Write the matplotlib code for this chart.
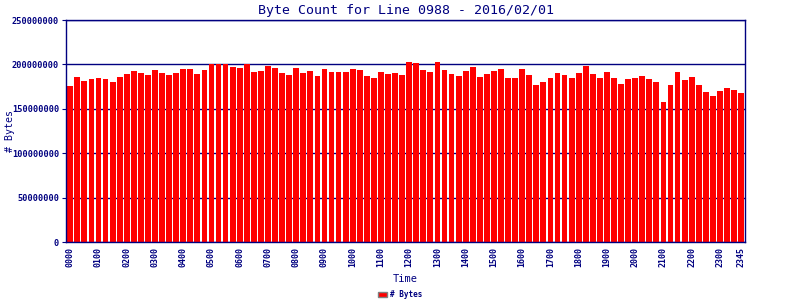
import matplotlib
matplotlib.use("Agg")
import matplotlib.pyplot as plt
import numpy as np

navy = "#000080"

# one bar per 15 minutes, in millions of bytes
times = ["%02d%02d" % (h, m) for h in range(24) for m in (0, 15, 30, 45)]
bytes_m = [
    175.3, 185.4, 180.9, 183.1, 184.3, 183.1, 179.8, 185.4,
    188.8, 192.1, 189.9, 187.6, 193.3, 189.9, 187.6, 189.9,
    194.4, 194.4, 188.8, 193.3, 200.0, 200.5, 200.0, 196.6,
    195.5, 200.7, 191.0, 192.1, 197.8, 195.5, 189.9, 187.6,
    195.5, 189.9, 192.1, 186.5, 194.4, 191.0, 191.0, 191.0,
    194.4, 193.3, 186.5, 184.3, 191.0, 188.8, 189.9, 187.6,
    202.2, 201.1, 193.3, 191.0, 202.2, 193.3, 188.8, 186.5,
    192.1, 196.6, 185.4, 188.8, 192.1, 194.4, 184.3, 184.3,
    194.4, 187.6, 176.4, 179.8, 184.3, 189.9, 187.6, 184.3,
    189.9, 197.8, 188.8, 184.3, 191.0, 184.3, 177.5, 183.1,
    184.3, 186.5, 183.1, 179.8, 157.3, 176.4, 191.0, 182.0,
    185.4, 176.4, 168.5, 164.0, 169.7, 173.0, 170.8, 167.4,
]
values = np.array(bytes_m) * 1e6
y_ticks = [0, 50000000, 100000000, 150000000, 200000000, 250000000]

mono = "DejaVu Sans Mono"

fig = plt.figure(figsize=(8, 3), dpi=100)
ax = fig.add_axes([66 / 800, 1 - 242 / 300, 679 / 800, 222 / 300])

x = np.arange(len(times))
ax.bar(x, values, width=0.82, color="#ff0000", label="# Bytes", zorder=2)

ax.set_xlim(-0.6, len(times) - 0.45)
ax.set_ylim(0, 250000000)

ax.set_yticks(y_ticks)
ax.set_yticklabels([str(v) for v in y_ticks], fontfamily=mono,
                   fontsize=6.2, fontweight="bold", color=navy)
ax.grid(axis="y", color=navy, linewidth=1, zorder=1)

tick_pos = list(range(0, 96, 4)) + [95]
ax.set_xticks(tick_pos)
ax.set_xticklabels([times[i] for i in tick_pos], rotation=90, fontfamily=mono,
                   fontsize=6, fontweight="bold", color=navy)
ax.set_xticks(x, minor=True)
ax.tick_params(axis="x", which="both", length=2, color=navy, direction="in")
ax.tick_params(axis="y", length=3, color=navy, pad=2)

for s in ax.spines.values():
    s.set_color(navy)
    s.set_linewidth(1.0)

ax.set_title("Byte Count for Line 0988 - 2016/02/01", fontfamily=mono,
             fontsize=9.5, color=navy, pad=4)
ax.set_xlabel("Time", fontfamily=mono, fontsize=7.5, color=navy, labelpad=5)
fig.text(10 / 800, 1 - 131 / 300, "# Bytes", rotation=90, ha="center",
         va="center", fontfamily=mono, fontsize=7.2, color=navy)

leg = fig.legend(loc="lower center", bbox_to_anchor=(0.5, -0.02), frameon=False,
                 prop={"family": mono, "size": 5.5, "weight": "bold"},
                 handlelength=1.2, handleheight=0.8, handletextpad=0.4)
for t in leg.get_texts():
    t.set_color(navy)
for h in leg.legend_handles:
    h.set_edgecolor("#808080")
    h.set_linewidth(1)

fig.savefig("out.png", dpi=100)
